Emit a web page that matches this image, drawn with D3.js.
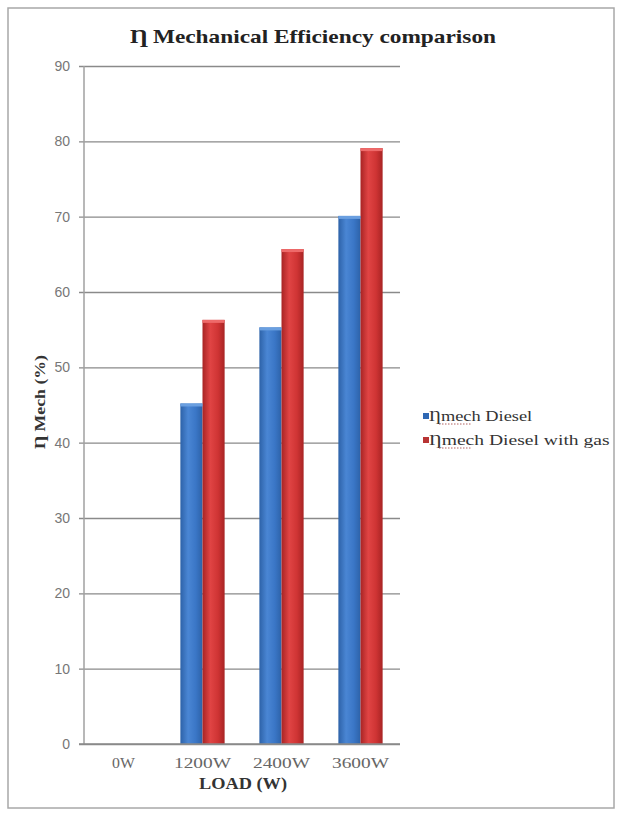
<!DOCTYPE html>
<html>
<head>
<meta charset="utf-8">
<script src="https://cdn.jsdelivr.net/npm/d3@7"></script>
<style>
  html, body { margin: 0; padding: 0; background: #fff; }
  svg { display: block; }
</style>
</head>
<body>
<script>
// Mechanical efficiency by load, diesel vs. diesel with gas
const categories = ["0W", "1200W", "2400W", "3600W"];
const seriesNames = ["Ƞmech Diesel", "Ƞmech Diesel with gas"];
const dieselValues = [0, 45.2, 55.3, 70.1];
const gasValues = [0, 56.3, 65.7, 79.1];
const yTicks = [0, 10, 20, 30, 40, 50, 60, 70, 80, 90];

const W = 617, H = 814;
const svg = d3.select("body").append("svg").attr("width", W).attr("height", H);

const defs = svg.append("defs");
function barGradient(id, edge, mid, light) {
  const g = defs.append("linearGradient").attr("id", id)
    .attr("x1", "0%").attr("x2", "100%").attr("y1", "0%").attr("y2", "0%");
  g.append("stop").attr("offset", "0%").attr("stop-color", edge);
  g.append("stop").attr("offset", "35%").attr("stop-color", light);
  g.append("stop").attr("offset", "70%").attr("stop-color", mid);
  g.append("stop").attr("offset", "100%").attr("stop-color", edge);
}
barGradient("gBlue", "#2d62a8", "#3a76c6", "#4a86d4");
barGradient("gRed", "#a82424", "#cf3434", "#e04444");
const fills = ["url(#gBlue)", "url(#gRed)"];
const capFills = ["#6a9fe0", "#ee6a6a"];
const legendFills = ["#2f68b4", "#b83434"];

// the chart's text is drawn wide, so each label is given an explicit length
function stretch(sel, len) {
  sel.attr("textLength", len).attr("lengthAdjust", "spacingAndGlyphs");
}

// outer frame
svg.append("rect").attr("x", 8).attr("y", 8).attr("width", 606).attr("height", 800)
  .attr("fill", "none").attr("stroke", "#a8a8a8").attr("stroke-width", 1.5);

// title
svg.append("text").attr("x", 313).attr("y", 43).attr("text-anchor", "middle")
  .attr("font-family", "Liberation Serif, serif").attr("font-weight", "bold")
  .attr("font-size", 19).attr("fill", "#222")
  .text("Ƞ Mechanical Efficiency comparison")
  .call(stretch, 366);

const plotLeft = 84, plotRight = 400, plotTop = 66, plotBottom = 744;

const x = d3.scaleBand().domain(categories).range([plotLeft, plotRight]);
const bw = x.bandwidth();
const x1 = d3.scaleBand().domain(d3.range(seriesNames.length)).range([bw * 0.22, bw * 0.78]);
const y = d3.scaleLinear().domain([0, 90]).range([plotBottom, plotTop]);

// gridlines and y tick labels
const yAxis = svg.append("g").attr("transform", `translate(${plotLeft - 5},0)`)
  .call(d3.axisLeft(y).tickValues(yTicks).tickSizeInner(-(plotRight - plotLeft + 5))
    .tickSizeOuter(0).tickPadding(9));
yAxis.select(".domain").remove();
yAxis.selectAll(".tick line").attr("stroke", "#8a8a8a").attr("stroke-width", 1.3);
yAxis.selectAll(".tick text").attr("font-family", "Liberation Sans, Arial, sans-serif")
  .attr("font-size", 14).attr("fill", "#777");

// vertical axis line
svg.append("line").attr("x1", plotLeft).attr("x2", plotLeft)
  .attr("y1", plotTop).attr("y2", plotBottom)
  .attr("stroke", "#a0a0a0").attr("stroke-width", 1.5);

// bars
const rows = categories.map((c, i) => ({ cat: c, vals: [dieselValues[i], gasValues[i]] }));
const groups = svg.append("g").selectAll("g").data(rows).join("g")
  .attr("transform", d => `translate(${x(d.cat)},0)`);
groups.selectAll("rect.bar").data(d => d.vals.map((v, s) => ({ v, s }))).join("rect")
  .attr("class", "bar")
  .attr("x", d => x1(d.s))
  .attr("width", x1.bandwidth())
  .attr("y", d => y(d.v))
  .attr("height", d => plotBottom - y(d.v))
  .attr("fill", d => fills[d.s]);
// lighter top caps
groups.selectAll("rect.cap").data(d => d.vals.map((v, s) => ({ v, s })).filter(e => e.v > 0)).join("rect")
  .attr("class", "cap")
  .attr("x", d => x1(d.s))
  .attr("width", x1.bandwidth())
  .attr("y", d => y(d.v))
  .attr("height", 3)
  .attr("fill", d => capFills[d.s]);

// x axis baseline
svg.append("line").attr("x1", plotLeft - 5).attr("x2", plotRight)
  .attr("y1", plotBottom).attr("y2", plotBottom)
  .attr("stroke", "#8a8a8a").attr("stroke-width", 1.3);

// x labels
const xAxis = svg.append("g").attr("transform", `translate(0,${plotBottom})`)
  .call(d3.axisBottom(x).tickSize(0).tickPadding(14));
xAxis.select(".domain").remove();
xAxis.selectAll(".tick text").attr("font-family", "Liberation Serif, serif")
  .attr("font-size", 14).attr("fill", "#666")
  .each(function (d) { d3.select(this).call(stretch, d.length * 11.4); });

// axis titles
svg.append("text").attr("x", 243).attr("y", 789).attr("text-anchor", "middle")
  .attr("font-family", "Liberation Serif, serif").attr("font-weight", "bold")
  .attr("font-size", 16).attr("fill", "#333").text("LOAD (W)")
  .call(stretch, 88);
svg.append("text").attr("transform", "translate(45,402) rotate(-90)")
  .attr("text-anchor", "middle")
  .attr("font-family", "Liberation Serif, serif").attr("font-weight", "bold")
  .attr("font-size", 14).attr("fill", "#333").text("Ƞ Mech (%)")
  .call(stretch, 94);

// legend
const legend = svg.append("g").attr("transform", "translate(423,421)");
const items = legend.selectAll("g").data(seriesNames).join("g")
  .attr("transform", (d, i) => `translate(0,${i * 24})`);
items.append("rect").attr("x", 0).attr("y", -8).attr("width", 6).attr("height", 6)
  .attr("fill", (d, i) => legendFills[i]);
items.append("text").attr("x", 6).attr("y", 0)
  .attr("font-family", "Liberation Serif, serif").attr("font-size", 14).attr("fill", "#333")
  .text(d => d)
  .each(function (d) { d3.select(this).call(stretch, d.length * 8.6); });
// dotted underline beneath the abbreviated word
items.append("line").attr("x1", 16).attr("x2", 49).attr("y1", 3).attr("y2", 3)
  .attr("stroke", "#b06060").attr("stroke-width", 1).attr("stroke-dasharray", "1.5,1.5");
</script>
</body>
</html>
